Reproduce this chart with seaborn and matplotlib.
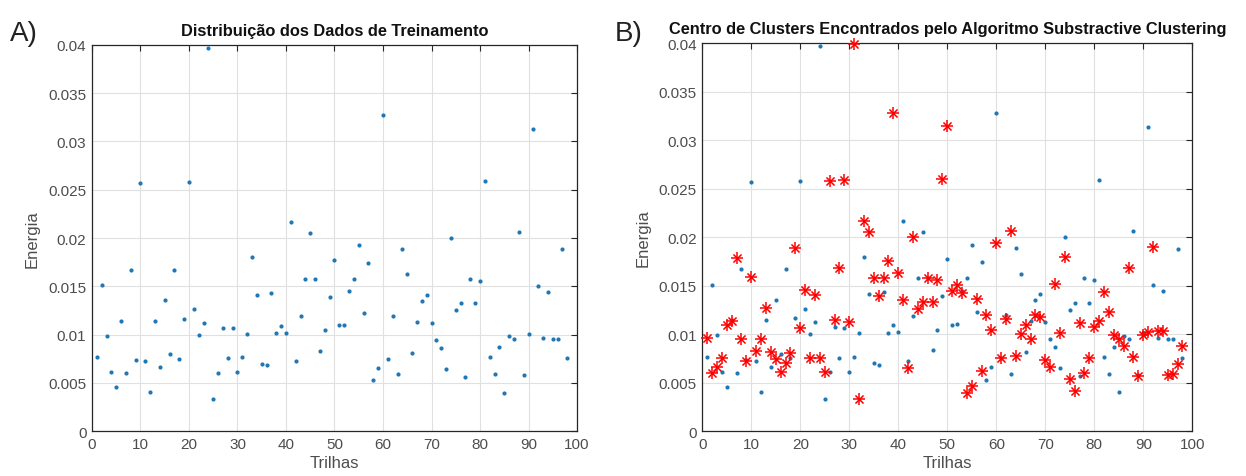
import numpy as np
import pandas as pd
import matplotlib
matplotlib.use('Agg')
import matplotlib.pyplot as plt
import seaborn as sns

# dados de treinamento (energia por trilha)
trilhas = list(range(1, 99))
energia = [
    0.00764, 0.01508, 0.00986, 0.00612, 0.00456, 0.01141, 0.00598, 0.01670, 0.00737, 0.02573,
    0.00726, 0.00401, 0.01145, 0.00660, 0.01356, 0.00799, 0.01670, 0.00750, 0.01165, 0.02583,
    0.01262, 0.00999, 0.01120, 0.03973, 0.00335, 0.00605, 0.01072, 0.00754, 0.01065, 0.00612,
    0.00768, 0.01010, 0.01798, 0.01411, 0.00699, 0.00681, 0.01432, 0.01013, 0.01093, 0.01020,
    0.02168, 0.00723, 0.01190, 0.01577, 0.02051, 0.01580, 0.00833, 0.01044, 0.01390, 0.01774,
    0.01096, 0.01103, 0.01449, 0.01577, 0.01923, 0.01224, 0.01746, 0.00526, 0.00657, 0.03278,
    0.00750, 0.01193, 0.00588, 0.01885, 0.01622, 0.00813, 0.01131, 0.01349, 0.01411, 0.01120,
    0.00947, 0.00865, 0.00647, 0.02002, 0.01252, 0.01324, 0.00564, 0.01577, 0.01324, 0.01556,
    0.02590, 0.00764, 0.00591, 0.00871, 0.00398, 0.00982, 0.00954, 0.02061, 0.00581, 0.01010,
    0.03133, 0.01504, 0.00961, 0.01439, 0.00954, 0.00954, 0.01881, 0.00757,
]

# centros de clusters (substractive clustering)
centros = [
    0.00962, 0.00594, 0.00656, 0.00749, 0.01093, 0.01130, 0.01783, 0.00948, 0.00725, 0.01584,
    0.00828, 0.00948, 0.01268, 0.00811, 0.00746, 0.00612, 0.00704, 0.00800, 0.01890, 0.01065,
    0.01457, 0.00749, 0.01405, 0.00756, 0.00612, 0.02580, 0.01148, 0.01677, 0.02587, 0.01124,
    0.03990, 0.00330, 0.02168, 0.02051, 0.01581, 0.01396, 0.01581, 0.01749, 0.03279, 0.01629,
    0.01348, 0.00645, 0.02000, 0.01255, 0.01327, 0.01574, 0.01327, 0.01561, 0.02600, 0.03142,
    0.01444, 0.01506, 0.01420, 0.00394, 0.00460, 0.01362, 0.00614, 0.01200, 0.01043, 0.01935,
    0.00751, 0.01152, 0.02065, 0.00775, 0.01002, 0.01098, 0.00954, 0.01197, 0.01177, 0.00734,
    0.00662, 0.01516, 0.01015, 0.01797, 0.00535, 0.00408, 0.01111, 0.00597, 0.00748, 0.01074,
    0.01132, 0.01437, 0.01224, 0.00994, 0.00953, 0.00874, 0.01680, 0.00765, 0.00569, 0.00994,
    0.01019, 0.01900, 0.01029, 0.01029, 0.00580, 0.00593, 0.00689, 0.00874,
]

df = pd.DataFrame({'Trilhas': trilhas, 'Energia': energia, 'Centro': centros})

sns.set_style('whitegrid')
plt.rcParams['font.family'] = ['Liberation Sans', 'DejaVu Sans']

azul = '#1f77b4'
cinza = '#4d4d4d'

fig = plt.figure(figsize=(12.46, 4.77), dpi=100)
ax1 = fig.add_axes([0.0738, 0.0943, 0.3893, 0.8093])
ax2 = fig.add_axes([0.5636, 0.0943, 0.3933, 0.8132])

for ax in (ax1, ax2):
    sns.scatterplot(data=df, x='Trilhas', y='Energia', ax=ax, color=azul,
                    s=9, linewidth=0, zorder=3, clip_on=False)

# asteriscos vermelhos (+ e x sobrepostos)
sns.scatterplot(data=df, x='Trilhas', y='Centro', ax=ax2, marker='+', color='red',
                s=64, linewidth=1.1, zorder=4, clip_on=False)
sns.scatterplot(data=df, x='Trilhas', y='Centro', ax=ax2, marker='x', color='red',
                s=34, linewidth=1.1, zorder=4, clip_on=False)

titulos = ['Distribuição dos Dados de Treinamento',
           'Centro de Clusters Encontrados pelo Algoritmo Substractive Clustering']
for ax, t in zip((ax1, ax2), titulos):
    ax.set_xlim(0, 100)
    ax.set_ylim(0, 0.04)
    ax.set_xticks(np.arange(0, 101, 10))
    ax.set_yticks(np.arange(0, 0.0401, 0.005))
    ax.set_yticklabels(['0', '0.005', '0.01', '0.015', '0.02', '0.025', '0.03', '0.035', '0.04'])
    ax.grid(True, color='#e0e0e0', linewidth=0.8)
    ax.set_axisbelow(True)
    for s in ax.spines.values():
        s.set_color('#262626')
        s.set_linewidth(0.9)
    ax.tick_params(direction='in', length=4, width=0.8, color='#262626',
                   top=True, right=True, labelsize=11, labelcolor=cinza, pad=4)
    ax.set_xlabel('Trilhas', fontsize=12, color=cinza, labelpad=3)
    ax.set_ylabel('Energia', fontsize=12, color=cinza, labelpad=6)
    ax.set_title(t, fontsize=11.8, fontweight='bold', color='#111111', pad=7)

fig.text(0.008, 0.915, 'A)', fontsize=20, color='#222222')
fig.text(0.493, 0.915, 'B)', fontsize=20, color='#222222')

fig.savefig('out.png', dpi=100, facecolor='white')
